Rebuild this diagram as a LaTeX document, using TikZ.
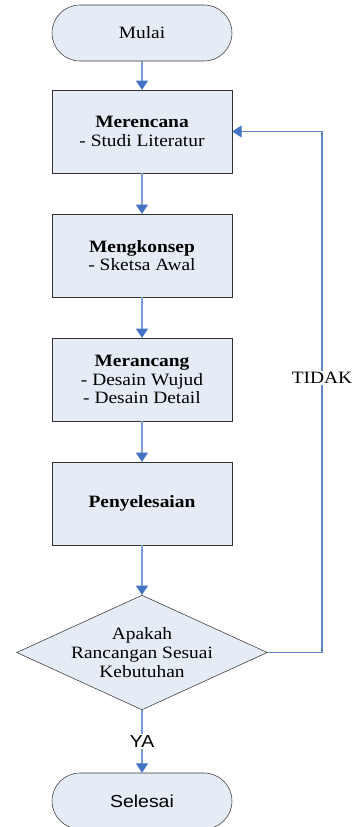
\documentclass[tikz,border=0pt]{standalone}
\usepackage{fontspec}
\setmainfont[FakeStretch=1.12]{Liberation Serif}
\setsansfont[FakeStretch=1.12]{Liberation Sans}
\usetikzlibrary{arrows.meta,shapes.geometric}
\definecolor{flowblue}{RGB}{68,114,196}
\definecolor{lineblue}{RGB}{120,158,216}
\definecolor{boxfill}{RGB}{230,236,246}

\begin{document}
\begin{tikzpicture}[x=0.75pt, y=-0.75pt,
    every node/.style={font=\fontsize{13}{14}\selectfont, text=black},
    term/.style={draw=black!80, fill=boxfill, rounded corners=21pt, minimum width=135pt, minimum height=42pt, inner sep=0pt},
    stepbox/.style={draw=black!80, fill=boxfill, minimum width=135pt, minimum height=62pt, align=center},
    decision/.style={draw=black!80, fill=boxfill, diamond, minimum width=188pt, minimum height=86pt, inner sep=0pt},
    flow/.style={lineblue, line width=0.8pt, -{Triangle[length=7pt,width=9pt,color=flowblue]}}]

    \useasboundingbox (0,0) rectangle (355,827);

    % === Main column ===
    \node[term] (mulai) at (142,33) {Mulai};
    \node[stepbox] (rencana) at (142,131.5) {\textbf{Merencana}\\- Studi Literatur};
    \node[stepbox] (konsep) at (142,255.5) {\textbf{Mengkonsep}\\- Sketsa Awal};
    \node[stepbox] (rancang) at (142,379.5) {\textbf{Merancang}\\- Desain Wujud\\- Desain Detail};
    \node[stepbox] (selesaikan) at (142,503.5) {\textbf{Penyelesaian}};
    \node[decision, label={[align=center]center:{Apakah\\Rancangan Sesuai\\Kebutuhan}}] (cek) at (142,652.5) {};
    \node[term, font=\sffamily\fontsize{13}{14}\selectfont] (selesai) at (142,801) {Selesai};

    \draw[flow] (mulai) -- (rencana);
    \draw[flow] (rencana) -- (konsep);
    \draw[flow] (konsep) -- (rancang);
    \draw[flow] (rancang) -- (selesaikan);
    \draw[flow] (selesaikan) -- (cek);
    \draw[flow] (cek) -- node[fill=white, inner sep=1pt, font=\sffamily\fontsize{13}{14}\selectfont] (ya) {YA} (selesai);

    % === Loop back ===
    \coordinate (balik) at (322,131.5);
    \draw[flow, flowblue!85] (cek.east) -| (balik) -- (rencana.east);
    \node[fill=white, inner sep=1pt] (tidak) at (322,378) {TIDAK};
\end{tikzpicture}
\end{document}
